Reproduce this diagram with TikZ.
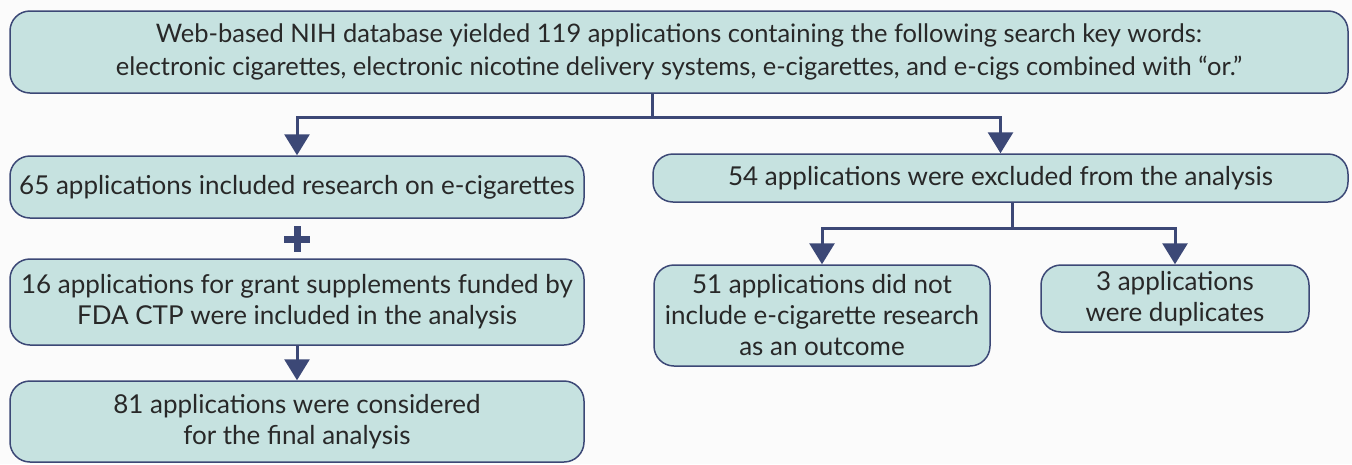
\documentclass[tikz,border=0pt]{standalone}
\usepackage{fontspec}
\setmainfont{Lato}
\usetikzlibrary{arrows.meta}
\definecolor{boxfill}{RGB}{198,226,224}
\definecolor{boxline}{RGB}{60,72,118}
\definecolor{txtgray}{RGB}{40,40,40}
\definecolor{pagebg}{RGB}{251,251,251}
\tikzset{
  flowbox/.style={draw=boxline, line width=1.5pt, fill=boxfill, rounded corners=20pt,
    align=center, text=txtgray, inner sep=0pt, font=\fontsize{26}{31}\selectfont},
  link/.style={draw=boxline, line width=3pt},
  linkarrow/.style={link, -{Triangle[width=25pt,length=21pt]}},
  plussign/.style={draw=boxline, line width=7pt},
}
\begin{document}
\begin{tikzpicture}[x=1pt,y=1pt,yscale=-1,xscale=1]
%Background
\useasboundingbox [fill=pagebg] (0,0) rectangle (1352,464);

% Text Node
\node [flowbox, font=\fontsize{25.5}{33}\selectfont, minimum width=1338pt, minimum height=82pt] (search) at (679,52)
  {Web-based NIH database yielded 119 applications containing the following search key words:\\
   electronic cigarettes, electronic nicotine delivery systems, e-cigarettes, and e-cigs combined with “or.”};
% Text Node
\node [flowbox, minimum width=574pt, minimum height=62pt] (inc) at (297,187)
  {65 applications included research on e-cigarettes};
% Text Node
\node [flowbox, minimum width=574pt, minimum height=86pt] (supp) at (297,302)
  {16 applications for grant supplements funded by\\ FDA CTP were included in the analysis};
% Text Node
\node [flowbox, minimum width=574pt, minimum height=81pt] (final) at (297,421.5)
  {81 applications were considered\\ for the final analysis};
% Text Node
\node [flowbox, minimum width=695pt, minimum height=48pt] (excl) at (1000.5,178)
  {54 applications were excluded from the analysis};
% Text Node
\node [flowbox, minimum width=336pt, minimum height=101pt] (notinc) at (822,315.5)
  {51 applications did not\\ include e-cigarette research\\ as an outcome};
% Text Node
\node [flowbox, minimum width=268pt, minimum height=67pt] (dup) at (1175,298.5)
  {3 applications\\ were duplicates};

%Straight Lines
\coordinate (split1) at (652,117);
\draw [link] (split1 |- search.south) -- (split1);
\draw [linkarrow] (split1) -| (inc.north);
\draw [linkarrow] (split1) -| (excl.north);
%Straight Lines
\coordinate (split2) at (1012,228);
\draw [link] (split2 |- excl.south) -- (split2);
\draw [linkarrow] (split2) -| (notinc.north);
\draw [linkarrow] (split2) -| (dup.north);
%Straight Lines
\draw [linkarrow] (supp.south) -- (final.north);

%Shape: Plus
\draw [plussign] (297,226) -- (297,252) (284,239) -- (310,239);

\end{tikzpicture}
\end{document}
